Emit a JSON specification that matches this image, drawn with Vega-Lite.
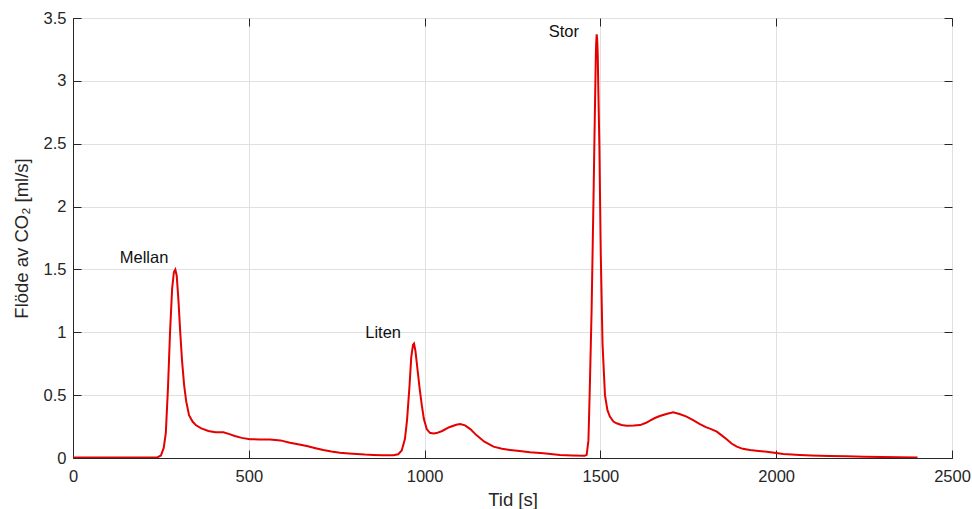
{
  "$schema": "https://vega.github.io/schema/vega-lite/v6.json",
  "autosize": {"type": "none"},
  "padding": {"left": 73, "top": 18, "right": 20, "bottom": 51},
  "width": 879,
  "height": 440,
  "background": "white",
  "config": {
    "view": {"stroke": "#262626", "strokeWidth": 1},
    "font": "Liberation Sans",
    "axis": {
      "labelFont": "Liberation Sans",
      "labelFontSize": 16.5,
      "labelColor": "#262626",
      "titleFont": "Liberation Sans",
      "titleFontSize": 18.5,
      "titleFontWeight": "normal",
      "titleColor": "#262626",
      "domainColor": "#262626",
      "tickColor": "#262626",
      "gridColor": "#e0e0e0",
      "tickSize": -8,
      "tickWidth": 1
    }
  },
  "datasets": {
    "flow": [
      {"t": 0, "q": 0.003}, {"t": 100, "q": 0.003}, {"t": 200, "q": 0.003}, {"t": 240, "q": 0.005},
      {"t": 250, "q": 0.02}, {"t": 258, "q": 0.08}, {"t": 264, "q": 0.2}, {"t": 270, "q": 0.55},
      {"t": 276, "q": 1.0}, {"t": 282, "q": 1.35}, {"t": 287, "q": 1.48}, {"t": 291, "q": 1.5},
      {"t": 295, "q": 1.45}, {"t": 300, "q": 1.25}, {"t": 305, "q": 1.0}, {"t": 310, "q": 0.78},
      {"t": 316, "q": 0.58}, {"t": 322, "q": 0.45}, {"t": 330, "q": 0.34}, {"t": 340, "q": 0.29},
      {"t": 350, "q": 0.26}, {"t": 365, "q": 0.235}, {"t": 385, "q": 0.215}, {"t": 405, "q": 0.205},
      {"t": 428, "q": 0.205}, {"t": 445, "q": 0.19}, {"t": 460, "q": 0.175}, {"t": 480, "q": 0.16},
      {"t": 503, "q": 0.15}, {"t": 530, "q": 0.148}, {"t": 560, "q": 0.148}, {"t": 590, "q": 0.14},
      {"t": 617, "q": 0.122}, {"t": 640, "q": 0.11}, {"t": 665, "q": 0.095}, {"t": 690, "q": 0.078},
      {"t": 712, "q": 0.064}, {"t": 735, "q": 0.052}, {"t": 759, "q": 0.042}, {"t": 785, "q": 0.036},
      {"t": 807, "q": 0.032}, {"t": 830, "q": 0.027}, {"t": 854, "q": 0.024}, {"t": 880, "q": 0.022},
      {"t": 911, "q": 0.022}, {"t": 925, "q": 0.03}, {"t": 935, "q": 0.06}, {"t": 944, "q": 0.15},
      {"t": 950, "q": 0.3}, {"t": 957, "q": 0.57}, {"t": 962, "q": 0.8}, {"t": 967, "q": 0.9},
      {"t": 970, "q": 0.91}, {"t": 974, "q": 0.85}, {"t": 980, "q": 0.7}, {"t": 986, "q": 0.55},
      {"t": 992, "q": 0.42}, {"t": 998, "q": 0.31}, {"t": 1006, "q": 0.23}, {"t": 1015, "q": 0.2},
      {"t": 1025, "q": 0.195}, {"t": 1034, "q": 0.198}, {"t": 1050, "q": 0.215}, {"t": 1070, "q": 0.245},
      {"t": 1090, "q": 0.265}, {"t": 1101, "q": 0.27}, {"t": 1115, "q": 0.26}, {"t": 1130, "q": 0.23},
      {"t": 1148, "q": 0.18}, {"t": 1170, "q": 0.13}, {"t": 1196, "q": 0.09}, {"t": 1220, "q": 0.073},
      {"t": 1243, "q": 0.064}, {"t": 1270, "q": 0.055}, {"t": 1300, "q": 0.045}, {"t": 1338, "q": 0.037},
      {"t": 1385, "q": 0.024}, {"t": 1420, "q": 0.02}, {"t": 1455, "q": 0.018}, {"t": 1461, "q": 0.025},
      {"t": 1466, "q": 0.14}, {"t": 1470, "q": 0.57}, {"t": 1475, "q": 1.18}, {"t": 1480, "q": 2.0},
      {"t": 1484, "q": 2.7}, {"t": 1487, "q": 3.2}, {"t": 1488, "q": 3.3}, {"t": 1489.5, "q": 3.37},
      {"t": 1491, "q": 3.32}, {"t": 1492.5, "q": 3.2}, {"t": 1494, "q": 2.95}, {"t": 1497, "q": 2.5},
      {"t": 1501, "q": 1.63},
      {"t": 1506, "q": 0.91}, {"t": 1513, "q": 0.5}, {"t": 1520, "q": 0.38}, {"t": 1527, "q": 0.33},
      {"t": 1537, "q": 0.29}, {"t": 1546, "q": 0.276}, {"t": 1560, "q": 0.262}, {"t": 1575, "q": 0.257},
      {"t": 1595, "q": 0.258}, {"t": 1613, "q": 0.262}, {"t": 1630, "q": 0.28}, {"t": 1641, "q": 0.297},
      {"t": 1655, "q": 0.318}, {"t": 1669, "q": 0.334}, {"t": 1690, "q": 0.352}, {"t": 1707, "q": 0.363},
      {"t": 1725, "q": 0.35}, {"t": 1745, "q": 0.329}, {"t": 1765, "q": 0.3}, {"t": 1783, "q": 0.27},
      {"t": 1800, "q": 0.245}, {"t": 1815, "q": 0.23}, {"t": 1831, "q": 0.21}, {"t": 1845, "q": 0.18},
      {"t": 1859, "q": 0.149}, {"t": 1873, "q": 0.115}, {"t": 1888, "q": 0.09}, {"t": 1905, "q": 0.073},
      {"t": 1925, "q": 0.064}, {"t": 1950, "q": 0.056}, {"t": 1973, "q": 0.05}, {"t": 2000, "q": 0.04},
      {"t": 2020, "q": 0.032}, {"t": 2067, "q": 0.024}, {"t": 2100, "q": 0.02}, {"t": 2150, "q": 0.016},
      {"t": 2200, "q": 0.013}, {"t": 2250, "q": 0.01}, {"t": 2300, "q": 0.008}, {"t": 2350, "q": 0.006},
      {"t": 2402, "q": 0.004}
    ],
    "peaks": [
      {"t": 202, "q": 1.59, "name": "Mellan"},
      {"t": 882, "q": 0.994, "name": "Liten"},
      {"t": 1396, "q": 3.39, "name": "Stor"}
    ]
  },
  "layer": [
    {
      "data": {"name": "flow"},
      "mark": {"type": "line", "color": "#e50000", "strokeWidth": 2, "clip": true},
      "encoding": {
        "x": {
          "field": "t", "type": "quantitative",
          "scale": {"domain": [0, 2500], "nice": false, "zero": false},
          "axis": {
            "title": "Tid [s]", "values": [0, 500, 1000, 1500, 2000, 2500],
            "format": "d", "labelPadding": 18, "titlePadding": 6,
            "grid": true, "labelFlush": false
          }
        },
        "y": {
          "field": "q", "type": "quantitative",
          "scale": {"domain": [0, 3.5], "nice": false},
          "axis": {
            "title": "Flöde av CO₂ [ml/s]", "values": [0, 0.5, 1, 1.5, 2, 2.5, 3, 3.5],
            "format": "~g", "labelPadding": 15, "titlePadding": 12,
            "grid": true, "labelFlush": false
          }
        }
      }
    },
    {
      "data": {"name": "peaks"},
      "mark": {"type": "text", "fontSize": 16.5, "font": "Liberation Sans", "color": "#111111", "align": "center", "baseline": "middle"},
      "encoding": {
        "x": {
          "field": "t", "type": "quantitative",
          "axis": {"orient": "top", "values": [0, 500, 1000, 1500, 2000, 2500], "labels": false, "title": null, "domain": false, "grid": false}
        },
        "y": {
          "field": "q", "type": "quantitative",
          "axis": {"orient": "right", "values": [0, 0.5, 1, 1.5, 2, 2.5, 3, 3.5], "labels": false, "title": null, "domain": false, "grid": false}
        },
        "text": {"field": "name"}
      }
    }
  ],
  "resolve": {"axis": {"x": "independent", "y": "independent"}}
}
